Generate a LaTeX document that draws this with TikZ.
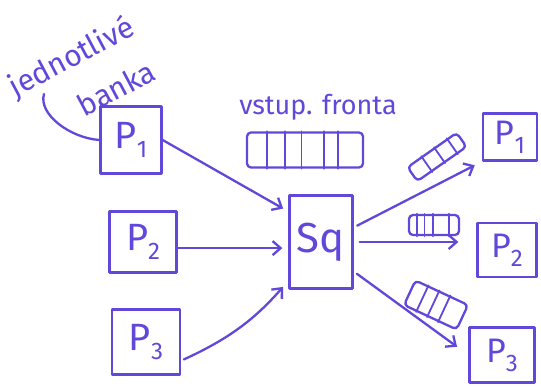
\documentclass[tikz,border=0pt]{standalone}
\usepackage{fontspec}
\setmainfont{Fira Sans}
\usetikzlibrary{calc,arrows.meta}
\definecolor{ink}{RGB}{98,72,218}
\tikzset{
  pen/.style={draw=ink, line width=2.3pt, line cap=round, line join=round},
  box/.style={pen, rectangle, inner sep=0pt, text=ink},
  queue/.style={pen, rectangle, rounded corners=4pt, inner sep=0pt},
  arr/.style={pen, -{Straight Barb[length=8pt,width=14pt]}},
  lbl/.style={text=ink, inner sep=1pt},
}
% process label: big P with a lowered index
\newcommand\procP[2][38]{\fontsize{#1}{#1}\selectfont P\raisebox{-9pt}{\fontsize{24}{24}\selectfont #2}}
% vertical dividers inside a queue node, at fractions of its length
\newcommand\qdiv[2]{\foreach \f in {#2}
  \draw[pen, line width=1.8pt] ($(#1.north west)!\f!(#1.north east)$) -- ($(#1.south west)!\f!(#1.south east)$);}
\begin{document}
\begin{tikzpicture}[x=1pt,y=-1pt]
\fill[white] (0,0) rectangle (541,387);
\useasboundingbox (0,0) rectangle (541,387);

% input processes and the scheduler
\node[box, minimum width=61pt, minimum height=67pt] (lp1) at (131,140) {\procP{1}};
\node[box, minimum width=67pt, minimum height=61pt] (lp2) at (143,242) {\procP{2}};
\node[box, minimum width=68pt, minimum height=65pt] (lp3) at (146,342) {\procP{3}};
\node[box, minimum width=63pt, minimum height=93pt, font=\fontsize{42}{42}\selectfont] (sq) at (321,242) {Sq};

% output processes
\node[box, minimum width=54pt, minimum height=47pt] (rp1) at (510,137) {\procP[34]{1}};
\node[box, minimum width=59pt, minimum height=54pt] (rp2) at (507,250) {\procP[34]{2}};
\node[box, minimum width=65pt, minimum height=55pt] (rp3) at (502,355) {\procP[34]{3}};

% input queue
\node[lbl, font=\fontsize{27}{27}\selectfont] (qinlbl) at (318,107) {vstup. fronta};
\node[queue, minimum width=116pt, minimum height=35pt] (qin) at (305,150) {};
\qdiv{qin}{0.18,0.33,0.47,0.66,0.78}

% output queues
\node[queue, minimum width=60pt, minimum height=17pt, rotate=35] (q1) at (437,157) {};
\qdiv{q1}{0.3,0.55,0.8}
\node[queue, minimum width=50pt, minimum height=20pt] (q2) at (434,225) {};
\qdiv{q2}{0.18,0.32,0.48,0.78}
\node[queue, minimum width=58pt, minimum height=27pt, rotate=-25] (q3) at (436,305) {};
\qdiv{q3}{0.25,0.45,0.65}

% arrows into the scheduler
\draw[arr, shorten >=6pt] (lp1.east) -- (sq.137);
\draw[arr, shorten >=6pt] (lp2.-10) -- (lp2.-10 -| sq.west);
\draw[arr, shorten >=8pt, shorten <=3pt] (lp3.-28) to[bend right=12] (sq.230);

% arrows out of the scheduler
\draw[arr, shorten >=8pt, shorten <=4pt] (sq.24) -- (rp1.south west);
\draw[arr, shorten >=18pt, shorten <=6pt] (sq.east) -- (sq.east -| rp2.west);
\draw[arr, shorten >=14pt, shorten <=4pt] (sq.-42) -- (rp3.west);

% annotation of the input processes
\node[lbl, rotate=28, font=\fontsize{30}{30}\selectfont] (ann1) at (72,58) {jednotlivé};
\node[lbl, rotate=28, font=\fontsize{30}{30}\selectfont] (ann2) at (116,88) {banka};
\coordinate (br) at (44,94);
\draw[pen] (br) .. controls (38,114) and (70,138) .. (lp1.west);
\end{tikzpicture}
\end{document}
